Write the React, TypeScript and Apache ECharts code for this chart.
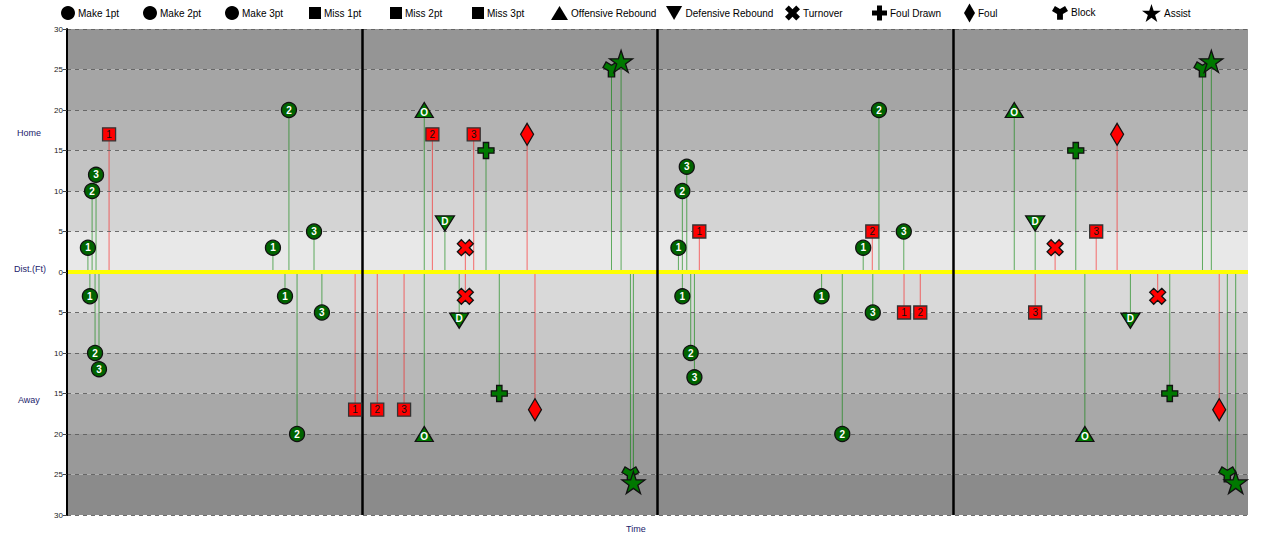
import React, { useEffect, useRef } from "react";
import * as echarts from "echarts";

// time in minutes (0-48), distance in feet (home +, away -)
const make1pt: [number, number][] = [[0.85, 3], [0.93, -3], [8.37, 3], [8.86, -3], [24.85, 3], [25.01, -3], [30.67, -3], [32.36, 3]];
const make2pt: [number, number][] = [[1.02, 10], [1.14, -10], [9.02, 20], [9.35, -20], [25.01, 10], [25.35, -10], [31.51, -20], [33.0, 20]];
const make3pt: [number, number][] = [[1.18, 12], [1.3, -12], [10.04, 5], [10.36, -5], [25.19, 13], [25.5, -13], [32.75, -5], [34.01, 5]];
const miss1pt: [number, number][] = [[1.71, 17], [11.71, -17], [25.7, 5], [34.02, -5]];
const miss2pt: [number, number][] = [[12.61, -17], [14.85, 17], [32.73, 5], [34.68, -5]];
const miss3pt: [number, number][] = [[13.7, -17], [16.53, 17], [41.83, 5], [39.35, -5]];
const offReb: [number, number][] = [[14.52, -20], [14.52, 20], [38.5, 20], [41.37, -20]];
const defReb: [number, number][] = [[15.36, 6], [15.94, -6], [39.35, 6], [43.22, -6]];
const turnover: [number, number][] = [[16.19, 3], [16.19, -3], [40.16, 3], [44.33, -3]];
const foulDrawn: [number, number][] = [[17.03, 15], [17.57, -15], [41.0, 15], [44.82, -15]];
const foul: [number, number][] = [[18.7, 17], [19.02, -17], [42.68, 17], [46.83, -17]];
const block: [number, number][] = [[22.13, 25], [22.9, -25], [46.15, 25], [47.16, -25]];
const assist: [number, number][] = [[22.52, 26], [23.02, -26], [46.51, 26], [47.5, -26]];

const quarterEnds = [12, 24, 36];
const yTicks = [-30, -25, -20, -15, -10, -5, 0, 5, 10, 15, 20, 25, 30];
const bandColors = ["#8b8b8b", "#999999", "#a8a8a8", "#b8b8b8", "#c8c8c8", "#d9d9d9", "#e8e8e8", "#d4d4d4", "#c3c3c3", "#b4b4b4", "#a5a5a5", "#959595"];

const GREEN = "#007800";
const DKGREEN = "#006400";
const RED = "#ff0000";
const FONT = "Liberation Sans, Arial, sans-serif";

const INV_TRI = "path://M0,0 L100,0 L50,86.6 Z";
const XSHAPE = "path://M75,0 L100,25 L75,50 L100,75 L75,100 L50,75 L25,100 L0,75 L25,50 L0,25 L25,0 L50,25 Z";
const PLUS = "path://M33.3,0 H66.7 V33.3 H100 V66.7 H66.7 V100 H33.3 V66.7 H0 V33.3 H33.3 Z";
const WYE = "path://M74.6,54.6 L74.6,94.6 L34.6,94.6 L34.6,54.6 L0,34.6 L20,0 L54.6,20 L89.3,0 L109.3,34.6 Z";
const STAR = "path://M50,0 L61.2,34.5 L97.6,34.5 L68.2,55.9 L79.4,90.5 L50,69.1 L20.6,90.5 L31.8,55.9 L2.4,34.5 L38.8,34.5 Z";

type Def = {
  name: string; data: [number, number][]; symbol: string; size: number | number[];
  color: string; stem: string; label?: string; labelColor?: string;
  legendX: number; legendIcon: string; legendW: number; legendH: number;
};

const defs: Def[] = [
  { name: "Make 1pt", data: make1pt, symbol: "circle", size: 15, color: DKGREEN, stem: "g", label: "1", labelColor: "#fff", legendX: 61, legendIcon: "circle", legendW: 14, legendH: 14 },
  { name: "Make 2pt", data: make2pt, symbol: "circle", size: 15, color: DKGREEN, stem: "g", label: "2", labelColor: "#fff", legendX: 143, legendIcon: "circle", legendW: 14, legendH: 14 },
  { name: "Make 3pt", data: make3pt, symbol: "circle", size: 15, color: DKGREEN, stem: "g", label: "3", labelColor: "#fff", legendX: 225, legendIcon: "circle", legendW: 14, legendH: 14 },
  { name: "Miss 1pt", data: miss1pt, symbol: "rect", size: 13, color: RED, stem: "r", label: "1", labelColor: "#111", legendX: 309, legendIcon: "rect", legendW: 12, legendH: 12 },
  { name: "Miss 2pt", data: miss2pt, symbol: "rect", size: 13, color: RED, stem: "r", label: "2", labelColor: "#111", legendX: 390, legendIcon: "rect", legendW: 12, legendH: 12 },
  { name: "Miss 3pt", data: miss3pt, symbol: "rect", size: 13, color: RED, stem: "r", label: "3", labelColor: "#111", legendX: 472, legendIcon: "rect", legendW: 12, legendH: 12 },
  { name: "Offensive Rebound", data: offReb, symbol: "triangle", size: [18, 15], color: GREEN, stem: "g", label: "O", labelColor: "#fff", legendX: 551, legendIcon: "triangle", legendW: 17, legendH: 14 },
  { name: "Defensive Rebound", data: defReb, symbol: INV_TRI, size: [19, 15], color: GREEN, stem: "g", label: "D", labelColor: "#fff", legendX: 666, legendIcon: INV_TRI, legendW: 17, legendH: 14 },
  { name: "Turnover", data: turnover, symbol: XSHAPE, size: 16, color: RED, stem: "r", legendX: 785, legendIcon: XSHAPE, legendW: 15, legendH: 15 },
  { name: "Foul Drawn", data: foulDrawn, symbol: PLUS, size: 16, color: GREEN, stem: "g", legendX: 872, legendIcon: PLUS, legendW: 15, legendH: 15 },
  { name: "Foul", data: foul, symbol: "diamond", size: [13, 22], color: RED, stem: "r", legendX: 964, legendIcon: "diamond", legendW: 11, legendH: 19 },
  { name: "Block", data: block, symbol: WYE, size: [17, 15], color: GREEN, stem: "g", legendX: 1052, legendIcon: WYE, legendW: 16, legendH: 14 },
  { name: "Assist", data: assist, symbol: STAR, size: [23, 22], color: GREEN, stem: "g", legendX: 1142, legendIcon: STAR, legendW: 19, legendH: 18 },
];

export default function App() {
  const ref = useRef<HTMLDivElement>(null);
  useEffect(() => {
    if (!ref.current) return;
    const chart = echarts.init(ref.current, undefined, { renderer: "svg" });

    const stems: number[][] = [];
    defs.forEach((d) => d.data.forEach(([t, v]) => stems.push([t, v, d.stem === "g" ? 1 : 0])));

    const bands: any[] = [];
    for (let i = 0; i < yTicks.length - 1; i++) {
      bands.push([{ yAxis: yTicks[i], itemStyle: { color: bandColors[i] } }, { yAxis: yTicks[i + 1] }]);
    }

    const gridLines = yTicks
      .filter((v) => v !== 0)
      .map((v) => ({ yAxis: v, lineStyle: { color: "#5e5e5e", width: 1.2, type: [4, 4], opacity: 0.9 } }));

    const legends = defs.map((d) => ({
      show: true,
      data: [d.name],
      left: d.legendX,
      top: 13 - Math.max(d.legendH, 12) / 2,
      padding: 0,
      itemGap: 0,
      itemWidth: d.legendW,
      itemHeight: d.legendH,
      icon: d.legendIcon,
      selectedMode: false,
      itemStyle: { color: "#000", borderWidth: 0 },
      textStyle: { fontSize: 10, color: "#000", fontFamily: FONT, padding: [0, 0, 0, -2] },
    }));

    const scatterSeries = defs.map((d) => ({
      name: d.name,
      type: "scatter",
      z: 5,
      symbol: d.symbol,
      symbolSize: d.size,
      symbolKeepAspect: false,
      data: d.data,
      itemStyle: { color: d.color, borderColor: d.symbol === "rect" ? "#333" : "#111", borderWidth: 1.3, opacity: 1 },
      label: d.label
        ? {
            show: true,
            position: "inside",
            formatter: d.label,
            color: d.labelColor,
            fontSize: 10,
            fontWeight: d.symbol === "rect" ? "normal" : "bold",
            fontFamily: FONT,
            offset: d.symbol === "triangle" ? [0, 2] : d.symbol === INV_TRI ? [0, -2] : [0, 0],
          }
        : { show: false },
      emphasis: { disabled: true },
    }));

    chart.setOption({
      animation: false,
      legend: legends,
      grid: { left: 67, right: 20, top: 29, bottom: 31 },
      xAxis: {
        type: "value",
        min: 0,
        max: 48,
        axisLine: { show: false },
        axisTick: { show: false },
        axisLabel: { show: false },
        splitLine: { show: false },
      },
      yAxis: {
        type: "value",
        min: -30,
        max: 30,
        interval: 5,
        z: 6,
        axisLine: { show: true, lineStyle: { color: "#000", width: 2 } },
        axisTick: { show: true, length: 4, lineStyle: { color: "#444" } },
        axisLabel: { fontSize: 8, color: "#222", margin: 4, fontFamily: FONT, formatter: (v: number) => String(Math.abs(v)) },
        splitLine: { show: false },
      },
      graphic: [
        { type: "text", left: 17, top: 128, style: { text: "Home", fontSize: 9, fill: "#22226b", fontFamily: FONT } },
        { type: "text", left: 14, top: 264, style: { text: "Dist.(Ft)", fontSize: 9, fill: "#22226b", fontFamily: FONT } },
        { type: "text", left: 18, top: 395, style: { text: "Away", fontSize: 9, fill: "#22226b", fontFamily: FONT } },
        { type: "text", left: 626, top: 524, style: { text: "Time", fontSize: 9, fill: "#22226b", fontFamily: FONT } },
      ],
      series: [
        {
          type: "custom",
          name: "bands",
          z: 0,
          silent: true,
          data: [],
          renderItem: () => null,
          markArea: { silent: true, data: bands },
          markLine: { silent: true, symbol: "none", label: { show: false }, data: gridLines },
        },
        {
          type: "custom",
          name: "stems",
          z: 2,
          silent: true,
          data: stems,
          renderItem: (_p: any, api: any) => {
            const t = api.value(0);
            const v = api.value(1);
            const g = api.value(2);
            const p0 = api.coord([t, 0]);
            const p1 = api.coord([t, v]);
            return {
              type: "line",
              shape: { x1: p0[0], y1: p0[1], x2: p1[0], y2: p1[1] },
              style: { stroke: g === 1 ? "rgba(0,128,0,0.6)" : "rgba(255,0,0,0.55)", lineWidth: 1 },
            };
          },
          markLine: {
            silent: true,
            symbol: "none",
            label: { show: false },
            data: [
              { yAxis: 0, lineStyle: { color: "#ffff00", width: 4, type: "solid" } },
              ...quarterEnds.map((q) => ({ xAxis: q, lineStyle: { color: "#000", width: 2.5, type: "solid" } })),
            ],
          },
        },
        ...scatterSeries,
      ],
    });
    return () => chart.dispose();
  }, []);
  return <div ref={ref} style={{ width: 1268, height: 546, position: "absolute", left: 0, top: 0 }} />;
}
